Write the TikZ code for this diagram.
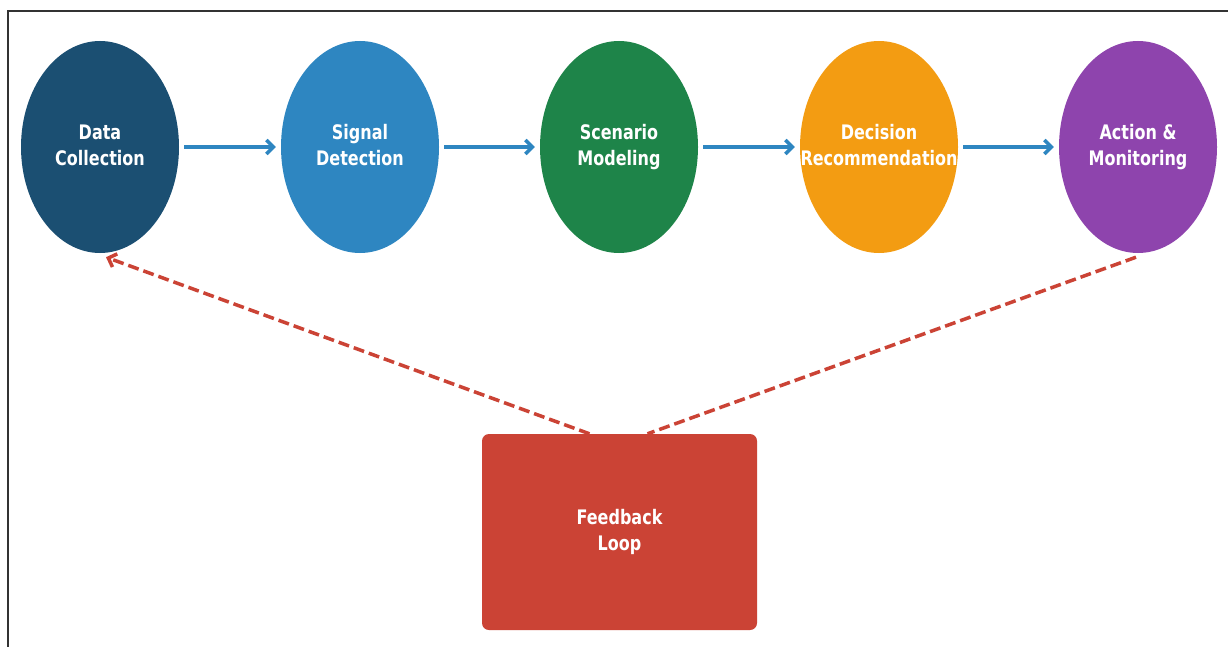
\documentclass[tikz,border=0pt]{standalone}
\usepackage{fontspec}
\setmainfont{DejaVu Sans}
\usetikzlibrary{shapes.geometric,arrows.meta,calc}
\definecolor{cData}{HTML}{1B4F72}
\definecolor{cSignal}{HTML}{2E86C1}
\definecolor{cScenario}{HTML}{1E8449}
\definecolor{cDecision}{HTML}{F39C12}
\definecolor{cAction}{HTML}{8E44AD}
\definecolor{cFeedback}{HTML}{CB4335}
\definecolor{cFrame}{HTML}{333333}
% two-line label, narrowed, taking no width so the shape keeps its size
\newcommand{\lbl}[1]{\makebox[0pt]{\scalebox{0.8}[1]{\begin{tabular}{@{}c@{}}#1\end{tabular}}}}
\tikzset{
  stage/.style={ellipse, minimum width=158pt, minimum height=212pt, inner sep=0pt,
    text=white, font=\bfseries\fontsize{20pt}{26pt}\selectfont},
  fbbox/.style={rectangle, rounded corners=7pt, minimum width=275pt, minimum height=196pt,
    fill=cFeedback, text=white, font=\bfseries\fontsize{20pt}{26pt}\selectfont},
  barb/.style={-{Straight Barb[length=7pt,width=14pt,line width=3.5pt]}},
  flow/.style={draw=cSignal, line width=3.8pt, barb},
  loop/.style={draw=cFeedback, line width=3.5pt, dash pattern=on 11pt off 5pt},
}
\begin{document}
\begin{tikzpicture}[x=1pt,y=-1pt]
  \useasboundingbox[fill=white] (0,0) rectangle (1228,647);
  % frame edges
  \draw[cFrame, line width=1.4pt] (8,647) -- (8,11) -- (1228,11);

  % process stages
  \node[stage, fill=cData]     (dc) at (100,147)  {\lbl{Data\\Collection}};
  \node[stage, fill=cSignal]   (sd) at (360,147)  {\lbl{Signal\\Detection}};
  \node[stage, fill=cScenario] (sm) at (619,147)  {\lbl{Scenario\\Modeling}};
  \node[stage, fill=cDecision] (dr) at (879,147)  {\lbl{Decision\\Recommendation}};
  \node[stage, fill=cAction]   (am) at (1138,147) {\lbl{Action \&\\Monitoring}};

  % feedback box
  \node[fbbox] (fb) at (619.5,532) {\lbl{Feedback\\Loop}};

  % forward flow
  \draw[flow] ([xshift=5pt]dc.east) -- ([xshift=-5pt]sd.west);
  \draw[flow] ([xshift=5pt]sd.east) -- ([xshift=-5pt]sm.west);
  \draw[flow] ([xshift=5pt]sm.east) -- ([xshift=-5pt]dr.west);
  \draw[flow] ([xshift=5pt]dr.east) -- ([xshift=-5pt]am.west);

  % feedback connections
  \coordinate (amOut) at ($(am.south)+(-2,4)$);
  \coordinate (dcIn)  at ($(dc.south)+(6,4)$);
  \draw[loop] (amOut) -- ($(fb.north)+(28,0)$);
  \draw[loop, barb] ($(fb.north)+(-30,0)$) -- (dcIn);
\end{tikzpicture}
\end{document}
